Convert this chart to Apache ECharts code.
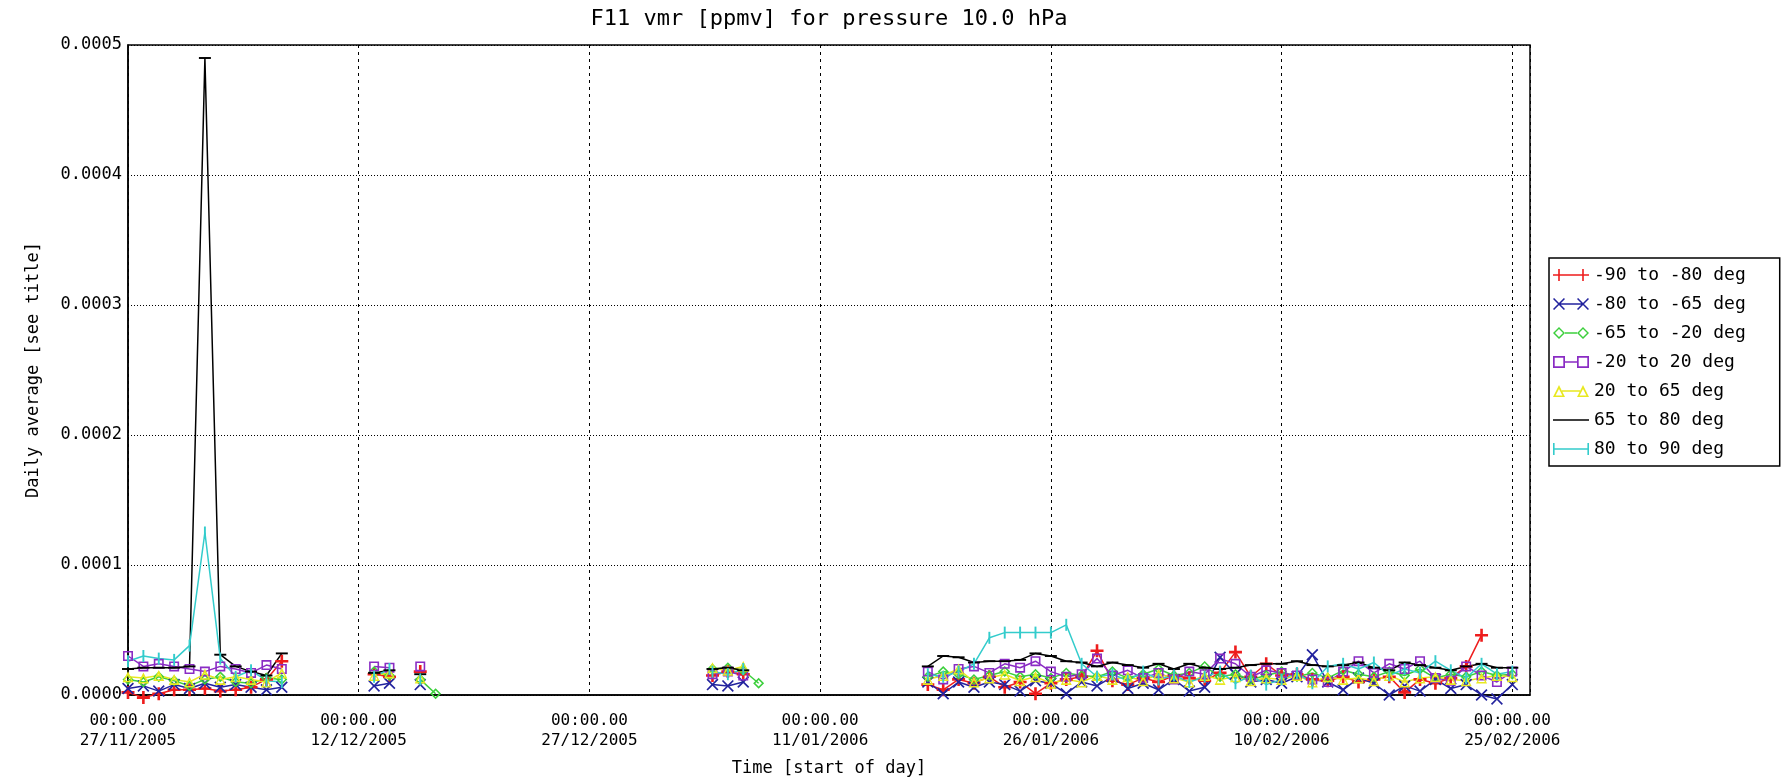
<!DOCTYPE html>
<html>
<head>
<meta charset="utf-8">
<title>F11 vmr [ppmv] for pressure 10.0 hPa</title>
<script src="https://cdn.jsdelivr.net/npm/echarts@6/dist/echarts.min.js"></script>
<style>
  html, body { margin: 0; padding: 0; background: #fff; }
  #main { width: 1782px; height: 782px; }
</style>
</head>
<body>
<div id="main"></div>
<script>
// days that have data; a missing day between two entries breaks the lines
var dates = [
  '2005-11-27', '2005-11-28', '2005-11-29', '2005-11-30', '2005-12-01', '2005-12-02',
  '2005-12-03', '2005-12-04', '2005-12-05', '2005-12-06', '2005-12-07',
  '2005-12-13', '2005-12-14', '2005-12-16', '2005-12-17',
  '2006-01-04', '2006-01-05', '2006-01-06', '2006-01-07',
  '2006-01-18', '2006-01-19', '2006-01-20', '2006-01-21', '2006-01-22', '2006-01-23',
  '2006-01-24', '2006-01-25', '2006-01-26', '2006-01-27', '2006-01-28', '2006-01-29',
  '2006-01-30', '2006-01-31', '2006-02-01', '2006-02-02', '2006-02-03', '2006-02-04',
  '2006-02-05', '2006-02-06', '2006-02-07', '2006-02-08', '2006-02-09', '2006-02-10',
  '2006-02-11', '2006-02-12', '2006-02-13', '2006-02-14', '2006-02-15', '2006-02-16',
  '2006-02-17', '2006-02-18', '2006-02-19', '2006-02-20', '2006-02-21', '2006-02-22',
  '2006-02-23', '2006-02-24', '2006-02-25'
];

var xTickTime = '00:00.00';
var xTickLabels = ['27/11/2005', '12/12/2005', '27/12/2005', '11/01/2006', '26/01/2006', '10/02/2006', '25/02/2006'];
var yTickLabels = ['0.0000', '0.0001', '0.0002', '0.0003', '0.0004', '0.0005'];

// daily averages, in units of 1e-6 ppmv (null = no data that day)
var lat90to80 = [
  2, -2, 1, 4, 4, 5, 3, 4, 6, 12, 26,
  16, 14, 18, null,
  15, 18, 16, null,
  8, 4, 12, 9, 14, 6, 10, 1, 9, 12, 14, 34, 11, 8, 13, 10, 15, 13, 11, 17,
  33, 14, 24, 15, 16, 12, 11, 14, 10, 12, 14, 2, 12, 9, 13, 22, 46, null, null
];
var lat80to65 = [
  5, 7, 3, 8, 5, 9, 6, 8, 6, 4, 6,
  7, 9, 8, null,
  8, 7, 10, null,
  10, 1, 10, 6, 10, 8, 3, 11, 9, 1, 10, 7, 14, 5, 9, 4, 12, 3, 6, 29,
  16, 10, 12, 9, 14, 31, 10, 4, 13, 9, 0, 7, 3, 12, 5, 8, 0, -3, 8
];
var lat65to20 = [
  12, 10, 14, 11, 7, 12, 14, 10, 9, 13, 12,
  18, 15, 12, 1,
  20, 21, 19, 9,
  14, 18, 16, 12, 15, 18, 14, 16, 13, 17, 15, 14, 18, 13, 16, 20, 15, 17, 22, 14,
  16, 12, 15, 18, 14, 17, 13, 19, 16, 14, 18, 15, 20, 13, 16, 14, 18, 15, 16
];
var lat20to20 = [
  30, 22, 24, 22, 20, 18, 22, 20, 17, 23, 20,
  22, 21, 22, null,
  16, 18, 15, null,
  18, 12, 20, 22, 17, 24, 21, 26, 18, 14, 16, 28, 15, 19, 13, 17, 12, 18, 16, 28,
  24, 14, 19, 17, 15, 12, 10, 18, 26, 17, 24, 20, 26, 13, 11, 22, 15, 10, 18
];
var lat20to65 = [
  14, 13, 15, 12, 10, 16, 12, 14, 12, 10, 17,
  15, 17, 13, null,
  21, 19, 22, null,
  12, 15, 20, 10, 13, 16, 11, 14, 9, 12, 10, 15, 12, 14, 11, 16, 13, 10, 15, 12,
  14, 11, 13, 12, 15, 10, 14, 12, 13, 11, 15, 10, 13, 14, 12, 11, 13, 15, 14
];
var lat65to80 = [
  20, 21, 21, 21, 22, 490, 31, 22, 18, 15, 32,
  17, 19, 16, null,
  20, 21, 19, null,
  22, 30, 29, 25, 26, 26, 27, 32, 30, 26, 25, 22, 25, 23, 21, 24, 20, 24, 21, 20,
  21, 23, 24, 24, 26, 23, 22, 23, 25, 21, 19, 25, 23, 21, 19, 22, 24, 21, 21
];
var lat80to90 = [
  26, 30, 28, 27, 38, 125, 28, 14, 19, 11, 10,
  14, 20, 12, null,
  18, 16, 20, null,
  16, 14, 18, 24, 44, 48, 48, 48, 48, 54, 24, 14, 16, 11, 18, 12, 15, 10, 14, 18,
  9, 15, 8, 12, 17, 9, 22, 24, 20, 25, 15, 20, 17, 26, 19, 13, 24, 16, 18
];

var FONT = '"DejaVu Sans Mono", monospace';
var DAY = 86400000;
var t0 = Date.UTC(2005, 10, 27);

function toTime(s) {
  var p = s.split('-');
  return Date.UTC(+p[0], +p[1] - 1, +p[2]);
}

function buildPoints(values) {
  var pts = [];
  for (var i = 0; i < dates.length; i++) {
    var t = toTime(dates[i]);
    if (i > 0 && t - toTime(dates[i - 1]) > DAY) pts.push([t - DAY, '-']);
    pts.push([t, values[i] == null ? '-' : values[i]]);
  }
  return pts;
}

// marker shapes like the IDL psym ones
var PLUS = 'path://M4,0L6,0L6,4L10,4L10,6L6,6L6,10L4,10L4,6L0,6L0,4L4,4Z';
var CROSS = 'path://M1,0L5,4L9,0L10,1L6,5L10,9L9,10L5,6L1,10L0,9L4,5L0,1Z';
var DIAMOND = 'path://M5,0L10,5L5,10L0,5Z M5,2L2,5L5,8L8,5Z';
var SQUARE = 'path://M0,0L10,0L10,10L0,10Z M1.6,1.6L1.6,8.4L8.4,8.4L8.4,1.6Z';
var TRIANGLE = 'path://M5,0L10,10L0,10Z M5,3.6L1.9,8.6L8.1,8.6Z';
var HBAR = 'path://M0,0L10,0L10,1.6L0,1.6Z';
var VBAR = 'path://M0,0L1.6,0L1.6,10L0,10Z';

// legend keys: marker - line - marker, drawn in a 36x12 box
var KEY_PLUS = 'path://M5.2,0L6.8,0L6.8,12L5.2,12Z M29.2,0L30.8,0L30.8,12L29.2,12Z M0,5.2L36,5.2L36,6.8L0,6.8Z';
var KEY_CROSS = 'path://M0,1.1L1.1,0L12,10.9L10.9,12Z M10.9,0L12,1.1L1.1,12L0,10.9Z ' +
  'M24,1.1L25.1,0L36,10.9L34.9,12Z M34.9,0L36,1.1L25.1,12L24,10.9Z M6,5.25L30,5.25L30,6.75L6,6.75Z';
var KEY_DIAMOND = 'path://M6,0L12,6L6,12L0,6Z M6,2L2,6L6,10L10,6Z ' +
  'M30,0L36,6L30,12L24,6Z M30,2L26,6L30,10L34,6Z M12,5.25L24,5.25L24,6.75L12,6.75Z';
var KEY_SQUARE = 'path://M0,0L12,0L12,12L0,12Z M1.7,1.7L1.7,10.3L10.3,10.3L10.3,1.7Z ' +
  'M24,0L36,0L36,12L24,12Z M25.7,1.7L25.7,10.3L34.3,10.3L34.3,1.7Z M12,5.25L24,5.25L24,6.75L12,6.75Z';
var KEY_TRIANGLE = 'path://M6,0L12,12L0,12Z M6,4L2.6,10.5L9.4,10.5Z ' +
  'M30,0L36,12L24,12Z M30,4L26.6,10.5L33.4,10.5Z M9,5.25L27,5.25L27,6.75L9,6.75Z';
var KEY_LINE = 'path://M0,0L36,0L36,1.5L0,1.5Z';
var KEY_BAR = 'path://M0,0L1.6,0L1.6,5.2L34.4,5.2L34.4,0L36,0L36,12L34.4,12L34.4,6.8L1.6,6.8L1.6,12L0,12Z';

var names = ['-90 to -80 deg', '-80 to -65 deg', '-65 to -20 deg', '-20 to 20 deg', '20 to 65 deg', '65 to 80 deg', '80 to 90 deg'];
var keys = [KEY_PLUS, KEY_CROSS, KEY_DIAMOND, KEY_SQUARE, KEY_TRIANGLE, KEY_LINE, KEY_BAR];

function makeSeries(name, values, color, symbol, size) {
  return {
    name: name,
    type: 'line',
    data: buildPoints(values),
    symbol: symbol,
    symbolSize: size,
    symbolKeepAspect: true,
    clip: false,
    color: color,
    lineStyle: { width: 1.5, color: color },
    itemStyle: { color: color }
  };
}

var chart = echarts.init(document.getElementById('main'));
chart.setOption({
  animation: false,
  backgroundColor: '#fff',
  graphic: [{
    type: 'text',
    x: 829,
    y: 19,
    style: {
      text: 'F11 vmr [ppmv] for pressure 10.0 hPa',
      fontSize: 22,
      fontFamily: FONT,
      fill: '#000',
      align: 'center',
      verticalAlign: 'middle'
    }
  }],
  grid: {
    left: 128, right: 252, top: 45, bottom: 87,
    show: true, borderColor: '#000', borderWidth: 1.5
  },
  legend: {
    orient: 'vertical',
    left: 1549,
    top: 258,
    itemWidth: 36,
    itemHeight: 12,
    itemGap: 11,
    symbolKeepAspect: true,
    padding: [8, 34, 8, 4],
    borderColor: '#000',
    borderWidth: 1.5,
    backgroundColor: '#fff',
    textStyle: { fontSize: 18, color: '#000', fontFamily: FONT },
    data: names.map(function (n, i) { return { name: n, icon: keys[i] }; })
  },
  xAxis: {
    type: 'value',
    min: t0,
    max: t0 + 91.15 * DAY,
    interval: 15 * DAY,
    name: 'Time [start of day]',
    nameLocation: 'middle',
    nameGap: 65,
    nameTextStyle: { fontSize: 17, color: '#000', fontFamily: FONT },
    axisLine: { show: true, lineStyle: { color: '#000', width: 1.5 } },
    axisTick: { show: false },
    axisLabel: {
      showMaxLabel: false,
      margin: 16,
      fontSize: 16,
      lineHeight: 20,
      color: '#000',
      fontFamily: FONT,
      formatter: function (v) {
        var i = Math.round((v - t0) / (15 * DAY));
        return xTickTime + '\n' + xTickLabels[i];
      }
    },
    splitLine: { show: true, lineStyle: { color: '#000', width: 1, type: [3, 4] } }
  },
  yAxis: {
    type: 'value',
    min: 0,
    max: 500,
    interval: 100,
    name: 'Daily average [see title]',
    nameLocation: 'middle',
    nameGap: 86,
    nameTextStyle: { fontSize: 17, color: '#000', fontFamily: FONT },
    axisLine: { show: true, lineStyle: { color: '#000', width: 1.5 } },
    axisTick: { show: false },
    axisLabel: {
      margin: 6,
      fontSize: 17,
      color: '#000',
      fontFamily: FONT,
      formatter: function (v) { return yTickLabels[Math.round(v / 100)]; }
    },
    splitLine: { show: true, lineStyle: { color: '#000', width: 1, type: [1, 2] } }
  },
  series: [
    makeSeries(names[0], lat90to80, '#ee1c1c', PLUS, 13),
    makeSeries(names[1], lat80to65, '#23239e', CROSS, 12),
    makeSeries(names[2], lat65to20, '#3ccf3c', DIAMOND, 11),
    makeSeries(names[3], lat20to20, '#8a2cc4', SQUARE, 10),
    makeSeries(names[4], lat20to65, '#e8e820', TRIANGLE, 11),
    makeSeries(names[5], lat65to80, '#000000', HBAR, 12),
    makeSeries(names[6], lat80to90, '#33cccc', VBAR, 12)
  ]
});
</script>
</body>
</html>
